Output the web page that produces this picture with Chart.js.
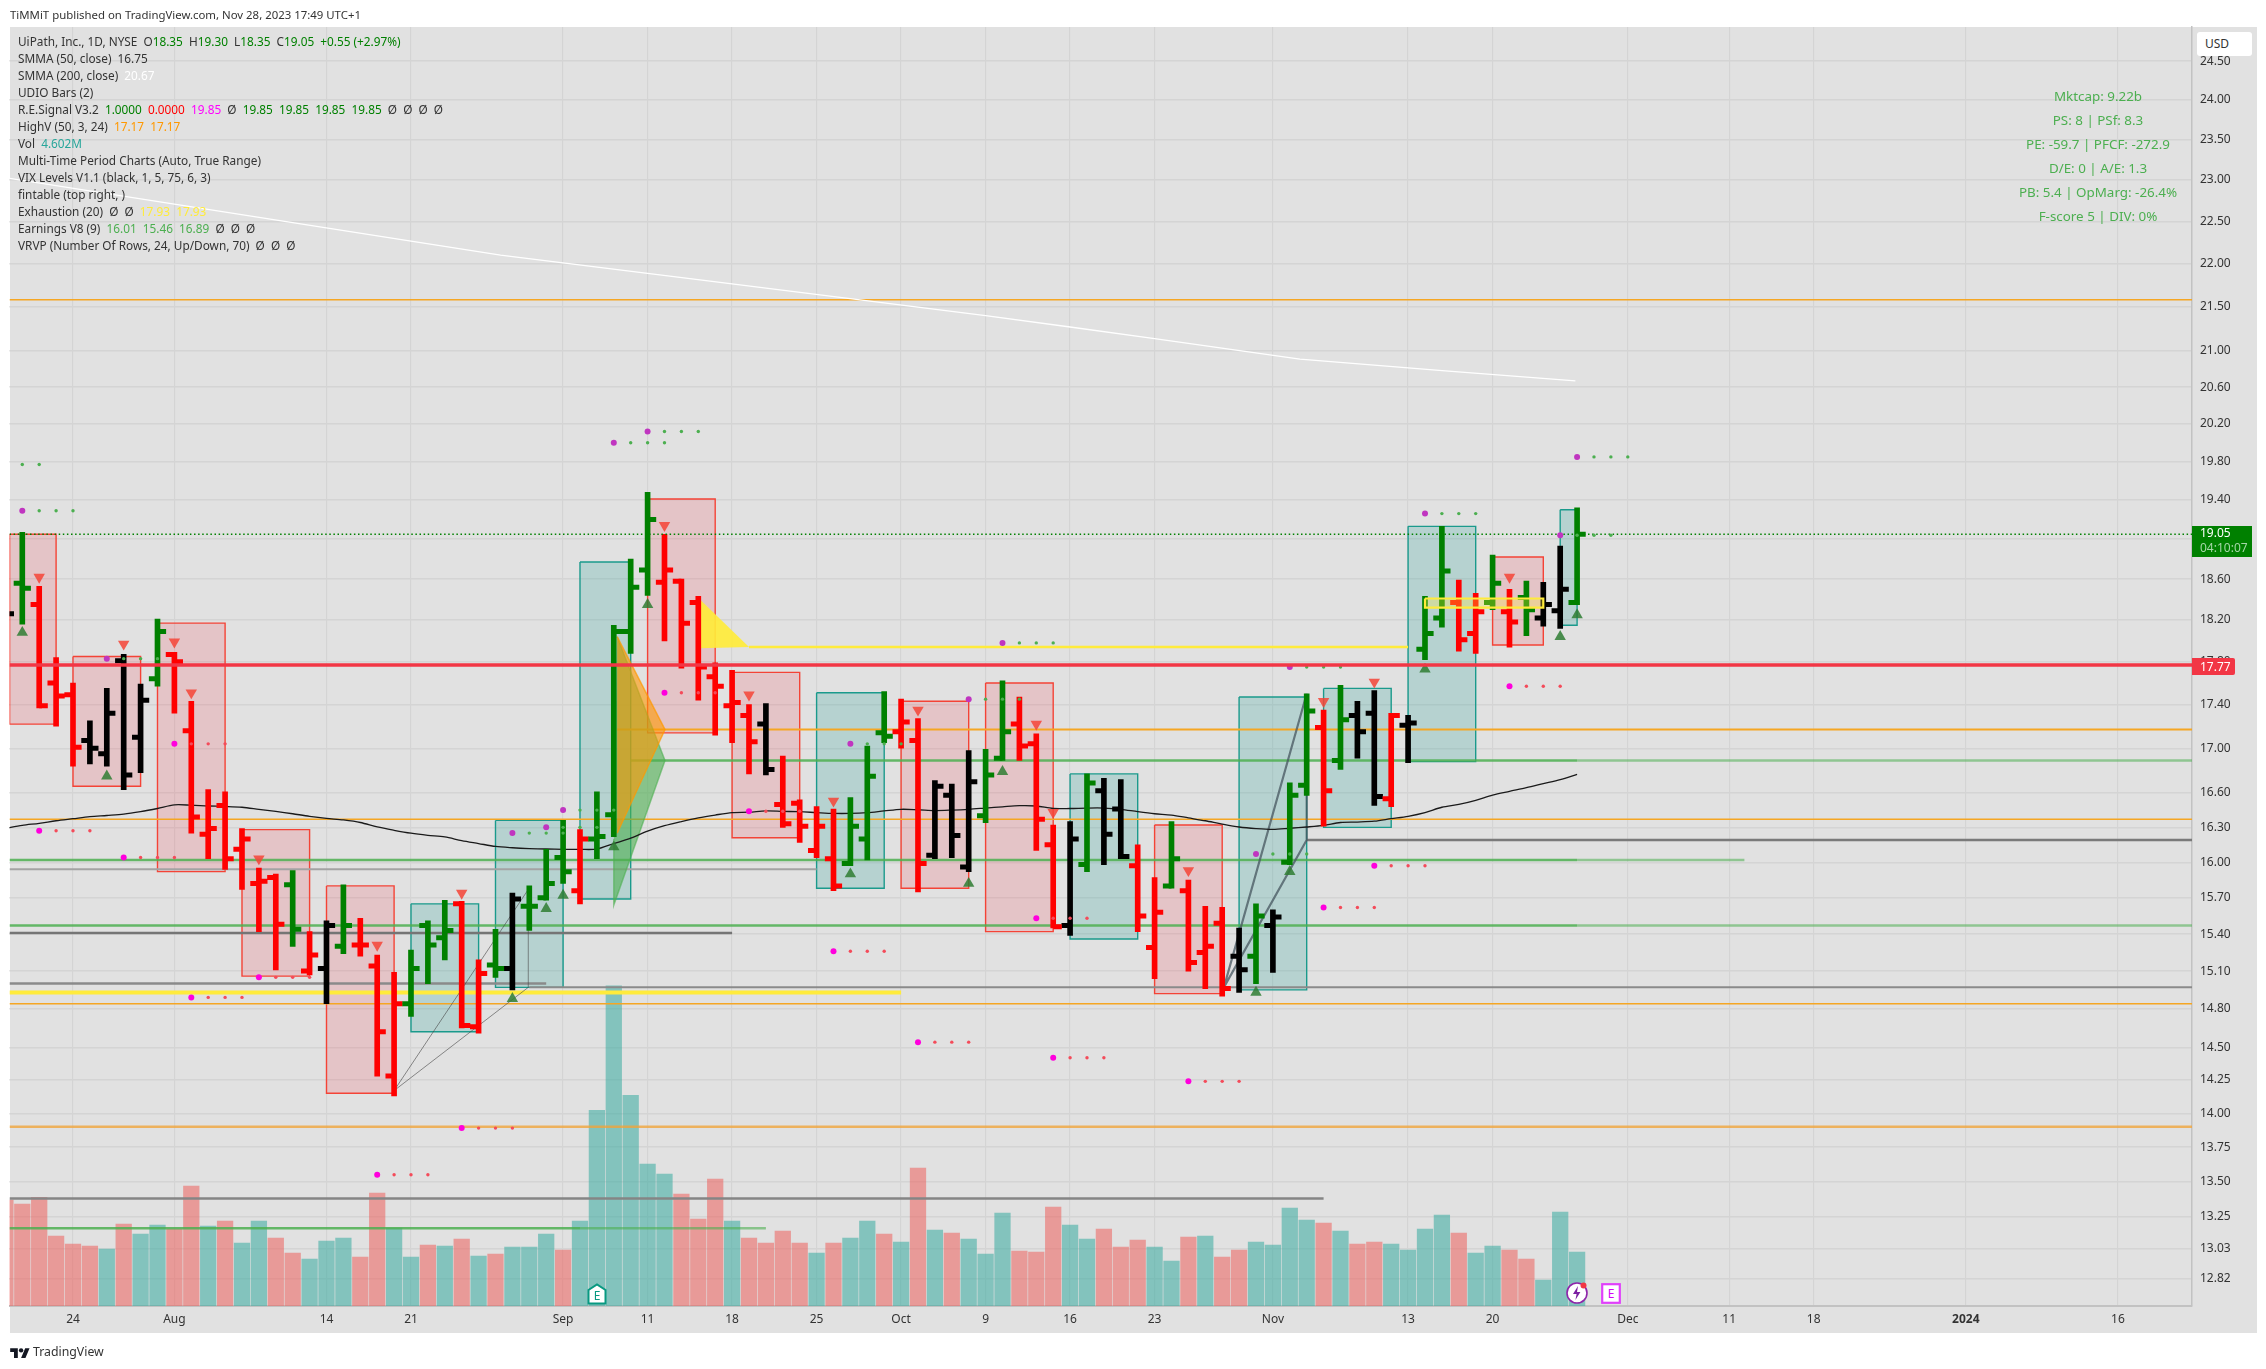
<!DOCTYPE html>
<html><head><meta charset="utf-8">
<style>
html,body{margin:0;padding:0;background:#fff;width:2266px;height:1369px;overflow:hidden;font-family:"Noto Sans",sans-serif}
#pane{position:absolute;left:9.5px;top:27px;width:2247.5px;height:1306px;background:#e1e1e1}
canvas{position:absolute;left:0;top:0}
.t{position:absolute;white-space:pre;color:#333}
.leg{font-size:11.8px;line-height:17px;left:18px}
.fin{font-size:13.4px;color:#4caf50;width:400px;left:1898px;text-align:center;line-height:24px}
</style>
<script src="https://cdn.jsdelivr.net/npm/chart.js@4/dist/chart.umd.min.js"></script>
</head><body>
<div id="pane"></div>
<canvas id="c" width="2266" height="1369"></canvas>
<div id="overlay"></div>
<script>
// ---- data (bar index -1 = Jul 18 2023, index 92 = Nov 28 2023) ----
const firstBar = -1;
const opens = [18.20,18.56,18.35,17.60,17.49,17.07,16.95,17.81,17.10,17.64,
 17.87,17.16,16.24,16.49,16.11,15.82,15.87,15.81,15.10,15.12,
 15.30,15.31,15.14,14.28,14.84,15.47,15.37,15.65,14.66,15.15,
 15.12,15.63,15.70,16.04,15.76,16.20,16.41,18.09,18.69,18.57,
 18.58,18.37,17.66,17.39,17.30,17.22,16.50,16.51,16.10,16.03,
 15.99,16.20,17.14,17.15,17.07,16.06,16.58,15.96,16.40,16.91,
 17.22,17.04,16.15,15.47,15.98,16.62,16.46,15.97,15.29,15.80,
 15.76,15.25,15.49,15.22,15.22,15.47,16.00,16.67,17.19,16.89,
 17.30,17.32,16.55,17.21,17.92,18.22,18.37,18.07,18.37,18.28,
 18.42,18.22,18.29,18.37];
const highs = [18.40,19.07,18.53,17.84,17.60,17.25,17.55,17.87,17.59,18.21,
 17.89,17.43,16.63,16.61,16.29,15.95,15.90,15.93,15.42,15.51,
 15.81,15.53,15.23,15.09,15.27,15.51,15.68,15.67,15.19,15.44,
 15.74,15.80,16.11,16.36,16.28,16.61,18.15,18.80,19.48,19.05,
 18.60,18.43,17.79,17.72,17.40,17.41,16.93,16.54,16.48,16.46,
 16.56,17.02,17.52,17.45,17.27,16.71,16.68,16.98,16.99,17.62,
 17.47,17.13,16.32,16.35,16.77,16.73,16.72,16.15,15.87,16.35,
 15.85,15.63,15.62,15.45,15.65,15.60,16.69,17.50,17.35,17.58,
 17.43,17.53,17.32,17.30,18.43,19.13,18.59,18.46,18.84,18.50,
 18.58,18.57,18.93,19.32];
const lows = [18.10,18.16,17.37,17.20,16.84,16.86,16.84,16.63,16.78,17.57,
 17.32,16.25,16.03,15.94,15.77,15.42,15.11,15.30,15.07,14.84,
 15.24,15.22,14.28,14.13,14.74,15.00,15.19,14.65,14.61,15.05,
 14.95,15.43,15.68,15.82,15.65,16.03,16.22,17.88,18.44,18.00,
 17.74,17.44,17.12,17.05,16.77,16.76,16.30,16.17,16.04,15.76,
 15.97,16.02,17.05,17.00,15.75,16.03,16.04,15.92,16.34,16.89,
 16.89,16.10,15.45,15.39,15.92,15.98,16.03,15.42,15.04,15.78,
 15.10,14.96,14.90,14.93,15.00,15.09,15.98,16.58,16.31,16.81,
 16.91,16.49,16.48,16.87,17.82,18.13,17.90,17.88,18.30,17.94,
 18.05,18.14,18.12,18.35];
const closes = [18.26,18.51,17.39,17.48,17.01,17.00,17.32,16.76,17.44,18.09,
 17.80,16.39,16.29,16.03,16.20,15.84,15.48,15.44,15.23,15.47,
 15.47,15.31,14.62,14.84,15.12,15.31,15.43,14.67,15.08,15.12,
 15.69,15.63,15.82,15.92,16.20,16.22,18.09,18.52,19.20,18.69,
 18.17,17.75,17.57,17.42,17.06,16.81,16.33,16.31,16.31,15.80,
 16.31,16.75,17.11,17.24,15.99,16.66,16.23,16.70,16.76,17.15,
 17.02,16.37,15.46,16.20,16.69,16.24,16.05,15.55,15.58,16.03,
 15.17,15.30,14.96,15.11,15.55,15.54,16.58,17.34,16.62,17.26,
 17.15,16.57,17.30,17.23,18.07,18.68,18.01,18.28,18.56,18.18,
 18.30,18.35,18.50,19.05];
const barKinds = ("kgrrrkkkkg"+"rrrrrrrgrk"+"grrrgggrrg"+"kgggrggggr"+"rrrrrkrrrr"+
 "gggrrkkkgg"+"rrrkgkkrrg"+"rrrkgkggrg"+"kkrkggrrgr"+"gkkg").split("");
const volumes = [9.03,8.69,9.26,5.96,5.28,5.11,4.86,6.99,6.13,6.90,
 6.56,10.22,6.82,7.24,5.37,7.24,5.79,4.52,4.00,5.54,
 5.79,4.17,9.63,6.65,4.17,5.20,5.11,5.71,4.26,4.43,
 5.03,5.03,6.13,4.77,7.24,16.70,27.31,17.98,12.10,11.25,
 9.54,7.41,10.82,7.24,5.79,5.37,6.39,5.37,4.52,5.37,
 5.79,7.24,6.13,5.45,11.76,6.48,6.22,5.71,4.43,7.92,
 4.69,4.60,8.43,6.90,5.71,6.56,5.03,5.62,5.03,3.83,
 5.88,5.96,4.17,4.77,5.45,5.20,8.35,7.33,7.07,6.39,
 5.28,5.45,5.28,4.77,6.56,7.75,6.22,4.52,5.11,4.77,
 4.00,2.22,8.01,4.60];
const volKinds = ("pppppptptt"+"pptpttpptt"+"tppttptptp"+"tttptttttt"+"ppptpppptp"+
 "ttptptpttt"+"pppttppptt"+"ptppttttpt"+"ppttttpttp"+"pttt").split("");
const smma50 = [16.292,16.317,16.335,16.357,16.375,16.393,16.403,16.414,16.436,16.464,
 16.496,16.493,16.486,16.482,16.475,16.457,16.439,16.418,16.396,16.378,
 16.364,16.342,16.303,16.274,16.249,16.231,16.217,16.185,16.160,16.135,
 16.124,16.117,16.113,16.110,16.110,16.113,16.160,16.206,16.267,16.314,
 16.350,16.382,16.407,16.428,16.432,16.443,16.439,16.436,16.428,16.421,
 16.421,16.428,16.443,16.457,16.453,16.446,16.450,16.457,16.468,16.479,
 16.489,16.486,16.464,16.464,16.468,16.468,16.457,16.436,16.418,16.407,
 16.382,16.357,16.328,16.303,16.289,16.282,16.292,16.303,16.317,16.342,
 16.346,16.353,16.375,16.396,16.428,16.475,16.500,16.536,16.582,16.615,
 16.647,16.683,16.719,16.765];
const smma200Bars = [-0.75,28.3,40.1,49.1,57,62,67,75.6,84.2,91.9];
const smma200 = [23.02,22.10,21.81,21.59,21.40,21.27,21.14,20.91,20.78,20.67];

const timeTickBars = [3,9,18,23,32,37,42,47,52,57,62,67,74,82,87,95,101,106,115,124];
const timeTickLabels = ["24","Aug","14","21","Sep","11","18","25","Oct","9","16","23","Nov","13","20","Dec","11","18","2024","16"];
const priceTicks = [24.5,24,23.5,23,22.5,22,21.5,21,20.6,20.2,19.8,19.4,19,18.6,18.2,17.8,17.4,17,16.6,16.3,16,15.7,15.4,15.1,14.8,14.5,14.25,14,13.75,13.5,13.25,13.03,12.82];

// period boxes: from bar, to bar, top price, bottom price
const redBoxes = [[-0.75,2,19.05,17.22],[3,7,17.85,16.66],[8,12,18.17,15.92],[13,17,16.28,15.06],[18,22,15.80,14.15],
 [37,41,19.41,17.14],[42,46,17.70,16.21],[52,56,17.43,15.78],[57,61,17.60,15.42],[67,71,16.32,14.92],[87,90,18.82,17.96]];
const tealBoxes = [[23,27,15.65,14.62],[28,32,16.36,14.97],[33,36,18.77,15.69],[47,51,17.51,15.78],[62,66,16.77,15.36],
 [72,76,17.47,14.95],[77,81,17.55,16.30],[82,86,19.13,16.88],[91,92,19.30,18.15]];
const yellowBox = [83,90,18.41,18.32];

// horizontal levels: price, from bar, to bar (null = pane edge)
const levelPrices = [16.37,14.84,17.17,13.90,21.58,16.89,16.89,16.02,16.02,15.47,15.47,15.94,15.41,15.00,14.97,16.19,14.93,17.94,13.38,13.17,13.17];
const levelFrom =   [null,null,35.2,null,null,36,92,null,92,null,92,null,null,null,30,76,null,43,null,null,33];
const levelTo =     [null,null,null,null,null,92,null,92,101.9,92,null,47,42,31,null,null,52,82,77,33,44];
const lastPrice = 19.05, redLevel = 17.77;

const orangeWedge = [[35.2,18.04],[38.03,17.17],[35.2,16.25]];
const greenWedge = [[35.2,18.04],[38.03,16.89],[35,15.64],[35,16.2]];
const yellowWedge = [[40.1,18.40],[43,17.94],[40.1,17.93]];
const fanA = [[29.94,15.77],[22,14.17],[29.94,14.97],[29.94,15.77]];
const fanB = [[76,17.50],[71.1,14.97],[76,16.19],[76,17.50]];

const downBars = [1,6,9,10,14,21,26,38,43,48,53,60,61,69,77,80,88];
const downPrices = [18.62,17.97,17.99,17.51,16.03,15.31,15.74,19.14,17.49,16.53,17.35,17.22,16.43,15.93,17.43,17.61,18.62];
const upBars = [0,5,29,31,32,35,37,49,56,58,73,75,83,91,92];
const upPrices = [18.08,16.75,14.88,15.61,15.72,16.13,18.35,15.90,15.82,16.79,14.93,15.92,17.73,18.04,18.25];

const greenDotBars = [-2,0,5,29,31,32,35,37,49,56,58,73,75,83,91,92];
const greenDotPrices = [19.77,19.29,17.83,16.25,16.30,16.45,20.00,20.12,17.04,17.45,17.98,16.07,17.75,19.26,19.04,19.85];
const redDotBars = [1,6,9,10,14,21,26,38,43,48,53,60,61,69,77,80,88];
const redDotPrices = [16.27,16.04,17.04,14.89,15.05,13.55,13.89,17.51,16.44,15.26,14.54,15.53,14.42,14.24,15.62,15.97,17.57];

// ---- layout constants of the view ----
const xMin = -0.757, xMax = 128.385, yMin = 12.636, yMax = 24.95, volMax = 109.1;
const C = {g:'#008000', r:'#ff0000', k:'#000000'};
const V = {p:'rgba(239,83,80,0.5)', t:'rgba(38,166,154,0.5)'};
const sets = [];

const xyList = a => a.map(p => ({x:p[0], y:p[1]}));
function poly(pts, fillCol, lineCol, w, order){
  sets.push({type:'line', data:xyList(pts), fill: fillCol ? 'shape' : false, backgroundColor:fillCol||'transparent',
    borderColor:lineCol||'transparent', borderWidth:w||0, pointRadius:0, tension:0, order, borderJoinStyle:'miter'});
}
function hline(y, from, to, color, w, order, dash){
  sets.push({type:'line', data:[{x:from,y},{x:to,y}], borderColor:color, borderWidth:w, pointRadius:0, order, borderDash:dash||[], fill:false});
}
function box(b, fc, lc, order, w){
  poly([[b[0],b[2]],[b[1],b[2]],[b[1],b[3]],[b[0],b[3]],[b[0],b[2]]], fc, lc, w||1.5, order);
}

// volume
sets.push({type:'bar', yAxisID:'yVol', grouped:false, order:100, barThickness:15.6, borderWidth:0,
  data: volumes.map((v,k)=>({x:k+firstBar,y:v})), backgroundColor: volKinds.map(k=>V[k])});
// boxes
redBoxes.forEach(b=>box(b,'rgba(242,54,69,0.17)','#f44336',90,1.4));
tealBoxes.forEach(b=>box(b,'rgba(0,150,136,0.19)','#1a9a8c',90,1.4));
// level lines
const levelStyles = [
 ['#f5a623',1.5],['#f5a623',1.5],['#f5a623',2],['rgba(240,165,60,0.8)',2.5],['#f5a623',1.5],
 ['rgba(76,175,80,0.85)',2.5],['rgba(76,175,80,0.55)',2.5],
 ['rgba(76,175,80,0.85)',2.5],['rgba(76,175,80,0.55)',2.5],
 ['rgba(76,175,80,0.85)',2.5],['rgba(76,175,80,0.55)',2.5],
 ['#a3a3a3',2],['#757575',2.5],['#8a8a8a',2.5],['#8a8a8a',2],['#7a7a7a',2.5],
 ['#ffeb3b',4],['#ffeb3b',2.5],['#858585',2.5],
 ['rgba(76,175,80,0.85)',2.5],['rgba(76,175,80,0.6)',2.5]];
levelPrices.forEach((p,k)=>hline(p, levelFrom[k]??xMin, levelTo[k]??xMax, levelStyles[k][0], levelStyles[k][1], 80));
// wedges
poly(greenWedge,'rgba(76,175,80,0.6)','rgba(76,175,80,0.6)',1.5,75);
poly(orangeWedge,'rgba(255,152,0,0.6)','rgba(255,152,0,0.7)',1.5,74);
poly(yellowWedge,'rgba(255,235,59,0.92)',null,0,73);
poly(fanA,null,'rgba(70,70,70,0.6)',1,72);
poly(fanB,null,'rgba(70,85,95,0.75)',2.2,72);
// averages
sets.push({type:'line', data:smma50.map((v,k)=>({x:k+firstBar,y:v})), borderColor:'#1a1a1a', borderWidth:1.3, pointRadius:0, tension:0.3, order:70});
sets.push({type:'line', data:smma200.map((v,k)=>({x:smma200Bars[k],y:v})), borderColor:'#ffffff', borderWidth:1.3, pointRadius:0, tension:0, order:70});
// yellow price box
box(yellowBox,'rgba(255,235,59,0.3)','#ffeb3b',45,2.2);
// OHLC: wicks
sets.push({type:'bar', grouped:false, order:50, barThickness:5, borderWidth:0,
  data: highs.map((h,k)=>({x:k+firstBar,y:[lows[k],h]})), backgroundColor: barKinds.map(k=>C[k])});
// OHLC: open/close ticks
['g','r','k'].forEach(kind=>{
  const d=[];
  barKinds.forEach((b,k)=>{ if(b!==kind) return; const i=k+firstBar;
    d.push({x:i-0.51,y:opens[k]},{x:i,y:opens[k]},{x:i,y:null},{x:i,y:closes[k]},{x:i+0.51,y:closes[k]},{x:i,y:null}); });
  sets.push({type:'line', data:d, borderColor:C[kind], borderWidth:5, pointRadius:0, order:49, fill:false, spanGaps:false, borderCapStyle:'butt'});
});
// last price, red level
hline(lastPrice,xMin,xMax,'#008000',1.5,40,[1.5,2.6]);
hline(redLevel,xMin,xMax,'#f23645',3.5,20);
// signal dots
function dots(bars, prices, col, bigCol){
  const big=[], small=[];
  bars.forEach((b,k)=>{ big.push({x:b,y:prices[k]}); for(let n=1;n<=3;n++) small.push({x:b+n,y:prices[k]}); });
  sets.push({type:'line', showLine:false, data:big, pointRadius:3, pointBackgroundColor:bigCol, pointBorderWidth:0, order:30});
  sets.push({type:'line', showLine:false, data:small, pointRadius:1.7, pointBackgroundColor:col, pointBorderWidth:0, order:30});
}
dots(greenDotBars,greenDotPrices,'#4caf50','#c035c0');
dots(redDotBars,redDotPrices,'#f44b5a','#ff00dd');
// triangles
sets.push({type:'line', showLine:false, order:31, data:downBars.map((b,k)=>({x:b,y:downPrices[k]})),
  pointStyle:'triangle', pointRotation:180, pointRadius:6.6, pointBackgroundColor:'rgba(244,67,54,0.85)', pointBorderWidth:0});
sets.push({type:'line', showLine:false, order:31, data:upBars.map((b,k)=>({x:b,y:upPrices[k]})),
  pointStyle:'triangle', pointRadius:6.6, pointBackgroundColor:'rgba(46,125,50,0.85)', pointBorderWidth:0});

new Chart(document.getElementById('c'),{
  data:{datasets:sets},
  options:{
    responsive:false, animation:false, devicePixelRatio:1, normalized:false,
    layout:{padding:{left:9.5,right:9,top:27,bottom:36}},
    plugins:{legend:{display:false},tooltip:{enabled:false}},
    scales:{
      x:{type:'linear',min:xMin,max:xMax,offset:false,
        afterBuildTicks(s){s.ticks=timeTickBars.map(v=>({value:v}));},
        afterFit(s){s.height=27;},
        grid:{color:'#d4d4d4',lineWidth:1.2,drawTicks:false,offset:false},
        border:{color:'#c2c2c2',width:2},
        ticks:{autoSkip:false,maxRotation:0,padding:6,color:'#333',
          font:c=>({family:'"Noto Sans"',size:12,weight:(c.tick&&c.tick.value===115)?'bold':'normal'}),
          callback(v){const k=timeTickBars.indexOf(v);return k<0?'':timeTickLabels[k];}}},
      y:{type:'logarithmic',position:'right',min:yMin,max:yMax,
        afterBuildTicks(s){s.ticks=priceTicks.map(v=>({value:v}));},
        afterFit(s){s.width=65;},
        grid:{color:'#d4d4d4',lineWidth:1.5,drawTicks:false},
        border:{color:'#c2c2c2',width:1.5},
        ticks:{autoSkip:false,padding:8,color:'#333',font:{family:'"Noto Sans"',size:12},
          callback(v){return Number(v).toFixed(2);}}},
      yVol:{type:'linear',display:false,min:0,max:volMax}
    }
  }
});

// ---- text overlay ----
const ov=document.getElementById('overlay');
function add(html,style,cls){const d=document.createElement('div');d.className='t '+(cls||'');d.style.cssText=style;d.innerHTML=html;ov.appendChild(d);return d;}
const G='#008000',Gl='#4caf50',R='#ff0000',M='#ff00ff',O='#ff9800',Y='#ffeb3b',T='#26a69a',W='#ffffff',Dk='#333333';
const span=(s,c)=>`<span style="color:${c}">${s}</span>`;
const legendRows=[
 [["UiPath, Inc., 1D, NYSE  ",Dk],["O",Dk],["18.35  ",G],["H",Dk],["19.30  ",G],["L",Dk],["18.35  ",G],["C",Dk],["19.05  +0.55 (+2.97%)",G]],
 [["SMMA (50, close)  16.75",Dk]],
 [["SMMA (200, close)  ",Dk],["20.67",W]],
 [["UDIO Bars (2)",Dk]],
 [["R.E.Signal V3.2  ",Dk],["1.0000  ",G],["0.0000  ",R],["19.85  ",M],["Ø  ",Dk],["19.85  19.85  19.85  19.85  ",G],["Ø  Ø  Ø  Ø",Dk]],
 [["HighV (50, 3, 24)  ",Dk],["17.17  17.17",O]],
 [["Vol  ",Dk],["4.602M",T]],
 [["Multi-Time Period Charts (Auto, True Range)",Dk]],
 [["VIX Levels V1.1 (black, 1, 5, 75, 6, 3)",Dk]],
 [["fintable (top right, )",Dk]],
 [["Exhaustion (20)  Ø  Ø  ",Dk],["17.93  17.93",Y]],
 [["Earnings V8 (9)  ",Dk],["16.01  15.46  16.89  ",Gl],["Ø  Ø  Ø",Dk]],
 [["VRVP (Number Of Rows, 24, Up/Down, 70)  Ø  Ø  Ø",Dk]]];
legendRows.forEach((r,k)=>add(r.map(p=>span(p[0],p[1])).join(''),`top:${32.5+17*k}px`,'leg'));
add('TiMMiT published on TradingView.com, Nov 28, 2023 17:49 UTC+1','left:10px;top:6px;font-size:11.4px;line-height:18px;color:#333');
["Mktcap: 9.22b","PS: 8 | PSf: 8.3","PE: -59.7 | PFCF: -272.9","D/E: 0 | A/E: 1.3","PB: 5.4 | OpMarg: -26.4%","F-score 5 | DIV: 0%"]
 .forEach((s,k)=>add(s,`top:${83.5+24*k}px`,'fin'));
add('USD','left:2197px;top:32px;width:47px;height:24px;padding-left:8px;background:#fff;border-radius:3px;font-size:12px;line-height:24px;color:#333');
add('19.05<br><span style="color:#a5d6a7">04:10:07</span>','left:2192px;top:526px;width:52px;height:31px;padding-left:8px;background:#008000;color:#fff;font-size:12px;line-height:14.5px;padding-top:0');
add('17.77','left:2192px;top:658px;width:35px;height:17px;padding-left:8px;background:#f23645;color:#fff;font-size:12px;line-height:17px;border-radius:0 2px 2px 0');
add('TradingView','left:33px;top:1342px;font-size:12.3px;line-height:20px;color:#333');
add('<svg width="20" height="12" viewBox="0 0 36 22" style="display:block"><path fill="#131722" d="M14 22H7V11H0V4h14v18zM28 22h-8l7.5-18h8L28 22z"/><circle cx="20" cy="8" r="4" fill="#131722"/></svg>','left:10px;top:1346px');
// event markers on the time axis
add('<svg width="20" height="22" viewBox="0 0 20 22"><path d="M1.5 20.5V7L10 1.5 18.5 7v13.5z" fill="#fff" stroke="#089981" stroke-width="2"/><text x="10" y="17" text-anchor="middle" font-size="12" fill="#089981" font-family="Noto Sans">E</text></svg>','left:587px;top:1283px;line-height:0');
add('<svg width="24" height="24" viewBox="0 0 24 24"><circle cx="12" cy="12" r="10" fill="#fff" stroke="#8e24aa" stroke-width="1.6"/><path d="M13 5l-5 8h3.6L10.4 19l5-8h-3.4z" fill="#7b1fa2"/><circle cx="18.5" cy="4.5" r="3" fill="#f23645"/></svg>','left:1565px;top:1281px;line-height:0');
add('<svg width="20" height="21" viewBox="0 0 20 21"><rect x="1.2" y="1.2" width="17.6" height="18.6" fill="#fff" stroke="#e040fb" stroke-width="2.2"/><text x="10" y="15" text-anchor="middle" font-size="12" fill="#d500f9" font-family="Noto Sans">E</text></svg>','left:1601px;top:1283px;line-height:0');
</script>
</body></html>
